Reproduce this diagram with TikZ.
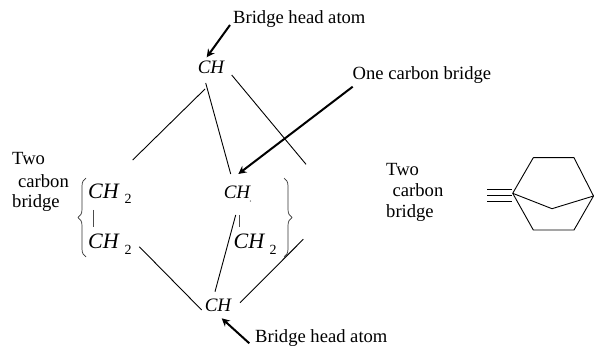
\documentclass[tikz,border=0pt]{standalone}
\usepackage{fontspec}
\setmainfont{Liberation Serif}
\usetikzlibrary{arrows.meta,decorations.pathreplacing}
\tikzset{
  lbl/.style={inner sep=0pt,anchor=west,font=\fontsize{18.6}{18.6}\selectfont},
  chem/.style={inner sep=0pt,anchor=center,font=\fontsize{22}{22}\selectfont\itshape},
  chs/.style={inner sep=0pt,anchor=center,font=\fontsize{19}{19}\selectfont\itshape},
  sub/.style={inner sep=0pt,anchor=center,font=\fontsize{14}{14}\selectfont},
  bond/.style={line width=0.9pt,black},
  thin bar/.style={line width=0.7pt,black!70},
  callout/.style={line width=2pt,-{Stealth[length=8pt,width=8pt]}},
  bracebar/.style={line width=0.7pt,black!80,decorate,decoration={brace,amplitude=8pt,aspect=0.5}},
  ring/.style={line width=0.9pt,line join=round}
}
\begin{document}
\begin{tikzpicture}[x=1pt,y=-1pt]
\useasboundingbox (0,0) rectangle (594,347);
% labels
\node[lbl] (bh1) at (233,19) {Bridge head atom};
\node[lbl] (one) at (352.5,75) {One carbon bridge};
\node[lbl] (bh2) at (255,338) {Bridge head atom};
\node[lbl] (l1) at (12,159) {Two};
\node[lbl] (l2) at (18,181) {carbon};
\node[lbl] (l3) at (12,203) {bridge};
\node[lbl] (r1) at (386,170) {Two};
\node[lbl] (r2) at (392.5,190) {carbon};
\node[lbl] (r3) at (386,213) {bridge};
% chemical groups
\node[chs] (topch) at (211,67) {CH};
\node[chem] (lc1) at (103.5,191) {CH};
\node[sub] (ls1) at (128,199) {2};
\node[chem] (lc2) at (103.5,241.5) {CH};
\node[sub] (ls2) at (128,250) {2};
\node[chs] (midch) at (237,192) {CH};
\node[inner sep=0pt,font=\fontsize{3}{3}\selectfont] (mids) at (250.7,201.7) {2};
\node[chem] (rc2) at (249,241.5) {CH};
\node[sub] (rs2) at (273,250) {2};
\node[chs] (botch) at (218,305.5) {CH};
% bond ends
\coordinate (a1) at (205,89);   \coordinate (a2) at (132.7,160);
\coordinate (b1) at (205.7,83); \coordinate (b2) at (230.7,174);
\coordinate (c1) at (231.7,75); \coordinate (c2) at (306,164.3);
\coordinate (d1) at (139.3,246.7); \coordinate (d2) at (201.7,310);
\coordinate (e1) at (235.7,215); \coordinate (e2) at (215,291.7);
\coordinate (f1) at (303.3,239.3); \coordinate (f2) at (240,302.7);
\draw[bond] (a1) -- (a2);
\draw[bond] (b1) -- (b2);
\draw[bond] (c1) -- (c2);
\draw[bond] (d1) -- (d2);
\draw[bond] (e1) -- (e2);
\draw[bond] (f1) -- (f2);
% vertical bars
\coordinate (v1) at (93.3,210); \coordinate (v2) at (93.3,226.7);
\coordinate (w1) at (239,215);  \coordinate (w2) at (239,226.7);
\draw[thin bar] (v1) -- (v2);
\draw[thin bar] (w1) -- (w2);
% braces
\coordinate (bl1) at (86,257); \coordinate (bl2) at (86,178);
\coordinate (br1) at (284,178); \coordinate (br2) at (284,257);
\draw[bracebar] (bl1) -- (bl2);
\draw[bracebar] (br1) -- (br2);
% callouts
\coordinate (t1) at (230,25);  \coordinate (t2) at (206.7,57.3);
\coordinate (o1) at (352.7,86.7); \coordinate (o2) at (238.3,174);
\coordinate (u1) at (249.3,343.3); \coordinate (u2) at (221.7,318.3);
\draw[callout] (t1) -- (t2);
\draw[callout] (o1) -- (o2);
\draw[callout] (u1) -- (u2);
% bicyclic skeleton
\coordinate (hl) at (512.7,193.3);
\coordinate (htl) at (533.3,157.7);
\coordinate (htr) at (574,157.7);
\coordinate (hr) at (593.5,196);
\coordinate (hbr) at (574,230);
\coordinate (hbl) at (533.3,230);
\coordinate (hc) at (552,208.7);
\draw[ring] (hl) -- (htl) -- (htr) -- (hr) -- (hbr) -- (hbl) -- cycle;
\draw[ring] (hl) -- (hc) -- (hr);
\coordinate (p1) at (487.3,189.3); \coordinate (p2) at (512,189.3);
\coordinate (q1) at (487.3,195);   \coordinate (q2) at (512,195);
\coordinate (s1) at (487.3,201);   \coordinate (s2) at (512,201);
\draw[bond] (p1) -- (p2);
\draw[bond] (q1) -- (q2);
\draw[bond] (s1) -- (s2);
\end{tikzpicture}
\end{document}
